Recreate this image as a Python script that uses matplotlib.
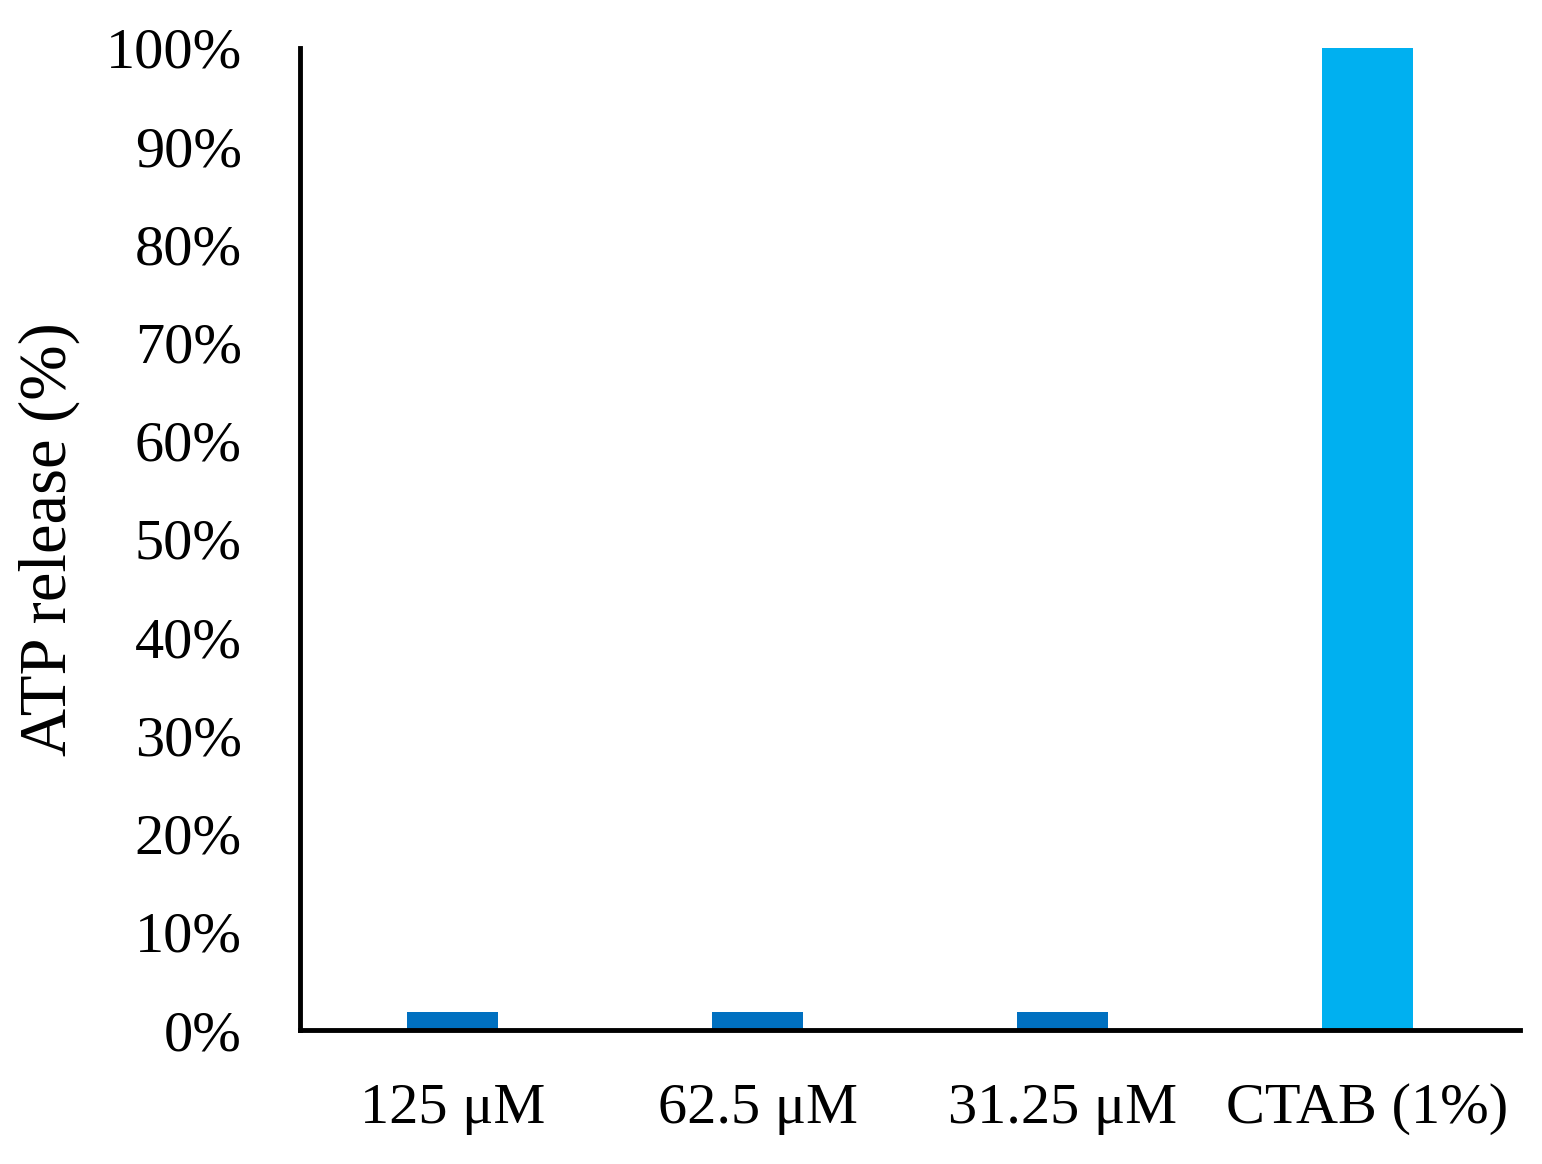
from matplotlib import pyplot as plt
from matplotlib.ticker import PercentFormatter

labels = ['125 \u03bcM', '62.5 \u03bcM', '31.25 \u03bcM', 'CTAB (1%)']
values = [1.8, 1.8, 1.8, 100]
colors = ['#0070C0', '#0070C0', '#0070C0', '#00B0F0']

plt.rcParams['font.family'] = ['Liberation Serif', 'DejaVu Serif']

fig = plt.figure(figsize=(15.42, 11.64), dpi=100)
ax = fig.add_axes([0.1946, 0.1151, 0.7911, 0.8437])

ax.bar(range(len(labels)), values, color=colors, width=0.3)
ax.set_xlim(-0.5, 3.5)
ax.set_ylim(0, 100)
ax.set_yticks(range(0, 101, 10))
ax.yaxis.set_major_formatter(PercentFormatter(decimals=0))
ax.set_xticks(range(len(labels)))
ax.set_xticklabels(labels)
ax.tick_params(axis='both', length=0, labelsize=42)
ax.tick_params(axis='x', pad=38)
ax.tick_params(axis='y', pad=42)

ax.set_ylabel('ATP release (%)', fontsize=48, labelpad=18)

for s in ['top', 'right']:
    ax.spines[s].set_visible(False)
for s in ['left', 'bottom']:
    ax.spines[s].set_linewidth(3.5)

fig.savefig('out.png', dpi=100)
